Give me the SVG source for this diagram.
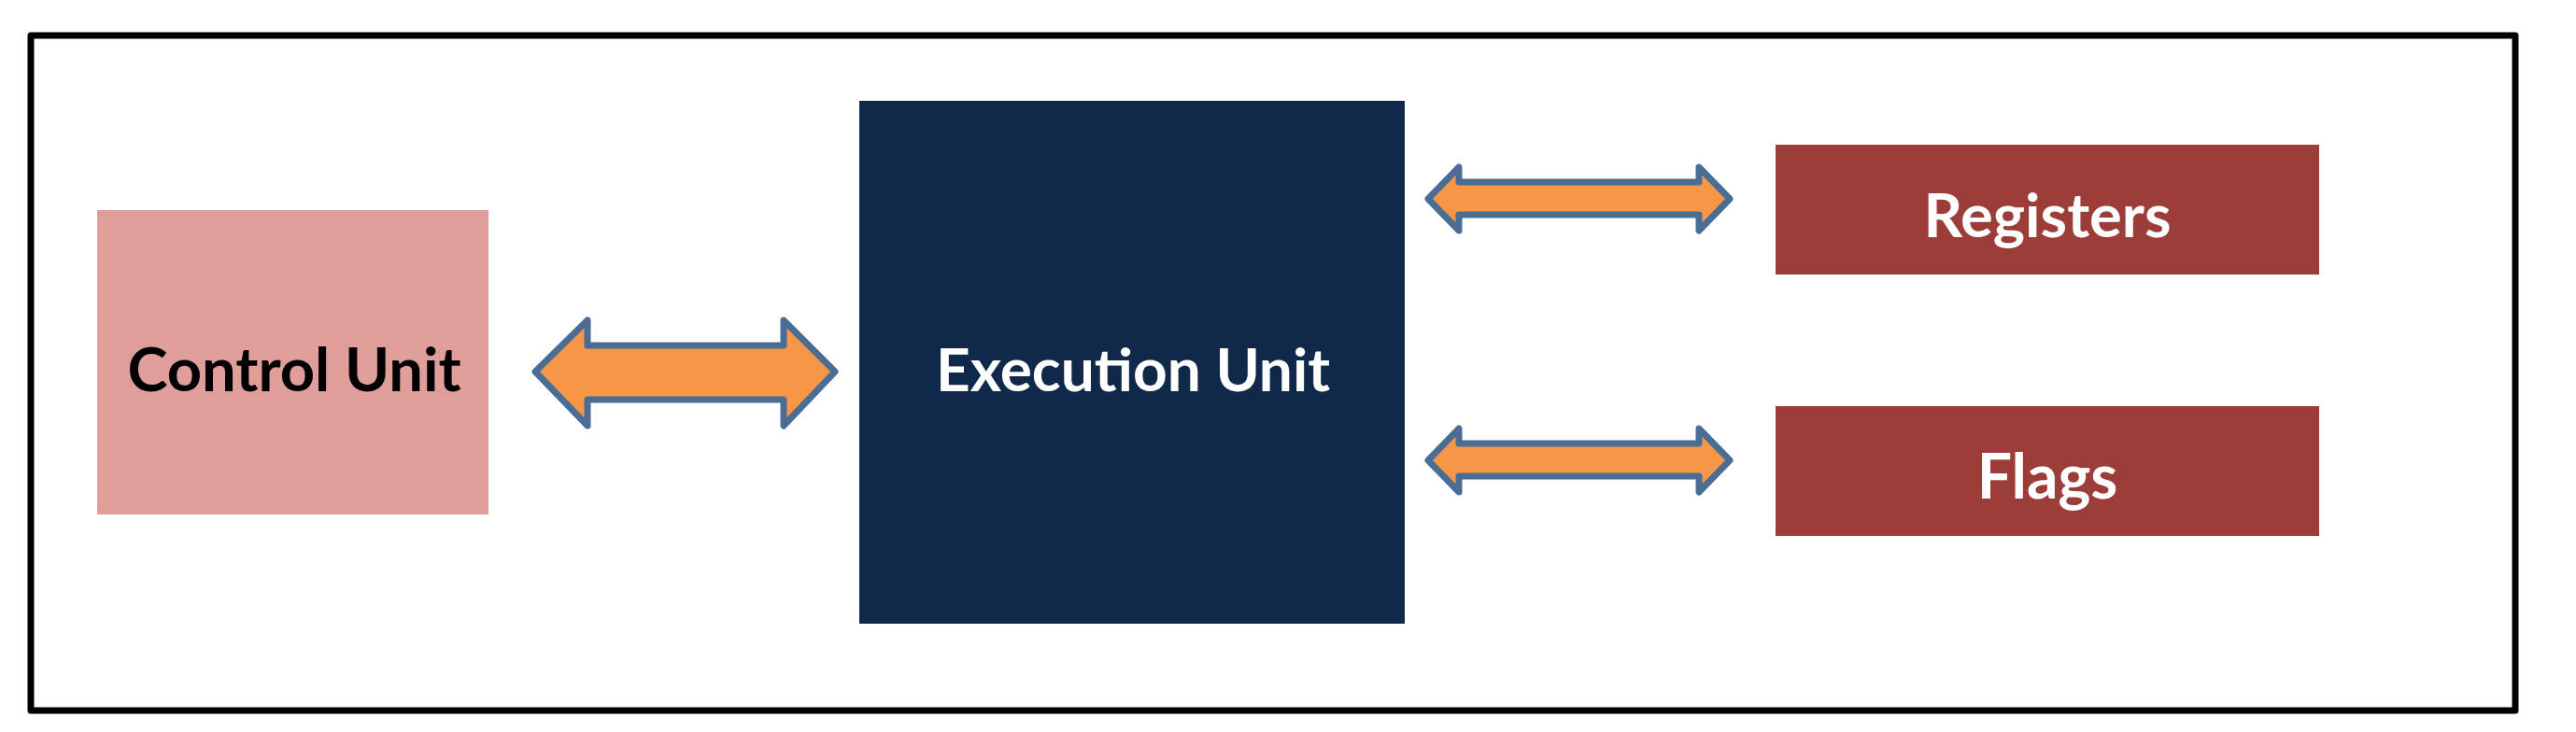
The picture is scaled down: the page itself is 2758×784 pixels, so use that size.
<svg xmlns="http://www.w3.org/2000/svg" width="2758" height="784" viewBox="0 0 2758 784">
<style>
.lbl{font-family:Lato,"Open Sans","Liberation Sans",sans-serif;font-weight:700;text-anchor:middle}
.conn{fill:#F79646;stroke:#4A6D96;stroke-width:7;stroke-linejoin:round}
</style>
<rect x="0" y="0" width="2758" height="784" fill="#FFFFFF"/>
<rect id="frame" x="33" y="38" width="2660" height="723" fill="none" stroke="#000000" stroke-width="7" stroke-linejoin="round"/>
<g id="control-unit">
<rect x="104" y="225" width="419" height="326" fill="#DF9E9A"/>
<text class="lbl" x="315" y="419" font-size="65" fill="#000000">Control Unit</text>
</g>
<g id="execution-unit">
<rect x="920" y="108" width="584" height="560" fill="#10294A"/>
<text class="lbl" x="1213" y="419" font-size="64" fill="#FFFFFF">Execution Unit</text>
</g>
<g id="registers">
<rect x="1901" y="155" width="582" height="139" fill="#9C3D39"/>
<text class="lbl" x="2192" y="254" font-size="65" fill="#FFFFFF">Registers</text>
</g>
<g id="flags">
<rect x="1901" y="435" width="582" height="139" fill="#9C3D39"/>
<text class="lbl" x="2192" y="534" font-size="66" fill="#FFFFFF">Flags</text>
</g>
<g id="connectors">
<polygon class="conn" points="573,398 629,343 629,370 839,370 839,343 894,398 839,456 839,428 629,428 629,456"/>
<polygon class="conn" points="1529,213 1562,179 1562,195 1819,195 1819,179 1852,213 1819,247 1819,230 1562,230 1562,247"/>
<polygon class="conn" points="1529,493 1562,459 1562,475 1819,475 1819,459 1852,493 1819,527 1819,510 1562,510 1562,527"/>
</g>
</svg>
